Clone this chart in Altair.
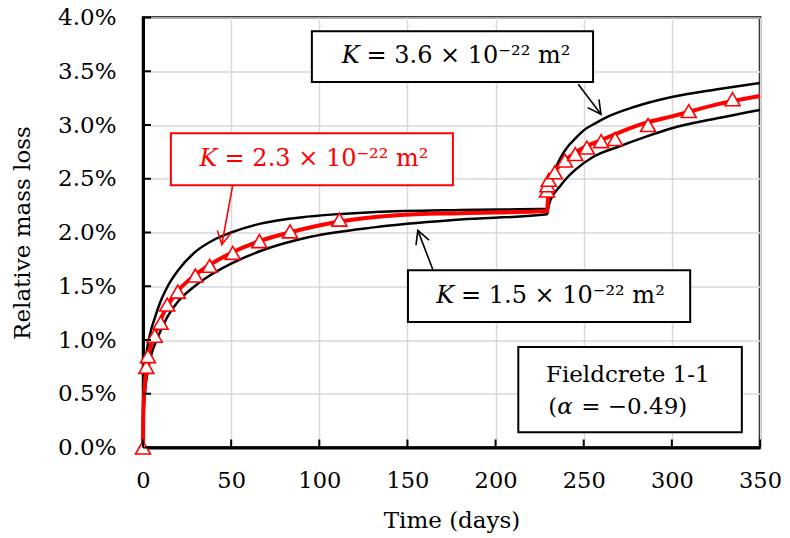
import altair as alt
import pandas as pd

# model curves, relative mass loss in %
days_hi = [0, 0.1, 0.5, 1, 2, 3, 4.7, 6.6, 10, 14, 20, 29, 40, 50, 66, 95, 132, 180, 229.3,
           229.6, 230.3, 231.5, 234, 237, 241, 245, 250, 257, 264, 279, 300, 325, 350]
loss_hi = [0, 0.30, 0.55, 0.70, 0.88, 0.98, 1.10, 1.20, 1.36, 1.50, 1.65, 1.81, 1.93, 2.00, 2.08, 2.15, 2.19, 2.21, 2.22,
           2.32, 2.42, 2.50, 2.60, 2.70, 2.80, 2.87, 2.95, 3.02, 3.08, 3.17, 3.26, 3.33, 3.39]

days_mid = [0, 0.1, 0.5, 1, 2, 3, 4.7, 6.6, 10, 14, 20, 30, 38, 50, 66, 83, 111, 144, 180, 229.3,
            229.6, 230.2, 231, 233, 236, 240, 245, 250, 260, 270, 285, 300, 325, 350]
loss_mid = [0, 0.25, 0.45, 0.58, 0.74, 0.84, 0.96, 1.05, 1.19, 1.32, 1.46, 1.61, 1.70, 1.81, 1.92, 2.00, 2.10, 2.16, 2.18, 2.20,
            2.28, 2.38, 2.45, 2.54, 2.62, 2.68, 2.74, 2.79, 2.86, 2.93, 3.02, 3.08, 3.19, 3.27]

days_lo = [0, 0.1, 0.5, 1, 2, 3, 5, 8.5, 13, 20, 30, 37, 50, 67, 95, 132, 180, 229.3,
           229.8, 230.5, 232, 234, 236, 240, 245, 255, 270, 285, 300, 325, 350]
loss_lo = [0, 0.20, 0.38, 0.50, 0.64, 0.74, 0.88, 1.03, 1.19, 1.36, 1.51, 1.59, 1.71, 1.83, 1.96, 2.05, 2.12, 2.17,
           2.22, 2.27, 2.33, 2.38, 2.42, 2.50, 2.58, 2.70, 2.80, 2.89, 2.97, 3.06, 3.14]

# measurements (triangles)
days_obs = [0, 1.9, 2.8, 6.6, 10, 13.7, 19.7, 29.7, 37.8, 50.9, 66, 83.4, 111.4,
            229.2, 229.4, 230.2, 233.6, 239.3, 245.2, 251.8, 259.9, 267.8, 286.5, 309.6, 334.4]
loss_obs = [0, 0.75, 0.85, 1.04, 1.16, 1.33, 1.45, 1.60, 1.69, 1.81, 1.92, 2.01, 2.12,
            2.39, 2.44, 2.49, 2.56, 2.67, 2.73, 2.79, 2.85, 2.87, 3.00, 3.13, 3.24]

x_ticks = [0, 50, 100, 150, 200, 250, 300, 350]
y_ticks = [0, 0.5, 1.0, 1.5, 2.0, 2.5, 3.0, 3.5, 4.0]

# annotations (in data units)
box_labels = ["3.6", "2.3", "1.5", "field"]
box_day = [95.8, 15.8, 150.3, 212.9]
box_day2 = [255.3, 175.8, 310.4, 339.7]
box_loss = [3.873, 2.924, 1.648, 0.934]
box_loss2 = [3.399, 2.439, 1.167, 0.142]
box_col = ["black", "red", "black", "black"]

arrow_day = [246.9, 50.9, 164.4]
arrow_loss = [3.38, 2.44, 1.655]
arrow_day2 = [259.8, 44.7, 155.9]
arrow_loss2 = [3.10, 1.887, 2.020]
arrow_angle = [144.3, 190.4, 339.1]
arrow_col = ["black", "red", "black"]

K_WIDTH, HEIGHT = 617, 430
FONT = "DejaVu Serif"

xs = alt.Scale(domain=[0, 350], nice=False)
ys = alt.Scale(domain=[0, 4], nice=False)
x_axis = alt.Axis(values=x_ticks, title="Time (days)", ticks=False, tickSize=0, labelPadding=22,
                  labelFlush=False, domainColor="black", domainWidth=3, gridColor="#d9d9d9", gridWidth=1.5,
                  labelFont=FONT, labelFontSize=22.5, labelColor="black",
                  titleFont=FONT, titleFontSize=23, titleFontWeight="normal", titleColor="black",
                  titleY=73, titleBaseline="middle")
y_axis = alt.Axis(values=y_ticks, title="Relative mass loss", ticks=False, tickSize=0, labelPadding=27,
                  labelFlush=False, labelExpr="format(datum.value, '.1f') + '%'",
                  domainColor="black", domainWidth=3, gridColor="#d9d9d9", gridWidth=1.5,
                  labelFont=FONT, labelFontSize=23, labelColor="black",
                  titleFont=FONT, titleFontSize=23, titleFontWeight="normal", titleColor="black",
                  titleX=-121, titleY=HEIGHT / 2, titleAngle=270, titleAlign="center", titleBaseline="middle")
X = alt.X("day:Q", scale=xs, axis=x_axis)
Y = alt.Y("loss:Q", scale=ys, axis=y_axis)

black_df = pd.concat([
    pd.DataFrame({"day": days_hi, "loss": loss_hi, "K": "3.6"}),
    pd.DataFrame({"day": days_lo, "loss": loss_lo, "K": "1.5"}),
])
red_df = pd.DataFrame({"day": days_mid, "loss": loss_mid})
obs_df = pd.DataFrame({"day": days_obs, "loss": loss_obs})

black_lines = alt.Chart(black_df).mark_line(color="black", strokeWidth=2.5, interpolate="monotone").encode(
    x=X, y=Y, detail="K:N")
red_line = alt.Chart(red_df).mark_line(color="red", strokeWidth=4, interpolate="monotone").encode(x=X, y=Y)
points = alt.Chart(obs_df).mark_point(shape="triangle-up", size=225, filled=True, fill="white",
                                      stroke="red", strokeWidth=1.6, opacity=1).encode(x=X, y=Y)

# inner tick marks
yt = alt.Chart(pd.DataFrame({"loss": y_ticks})).mark_rule(color="black", strokeWidth=2).encode(
    y=Y, x=alt.value(0), x2=alt.value(8))
xt = alt.Chart(pd.DataFrame({"day": x_ticks})).mark_rule(color="black", strokeWidth=2).encode(
    x=X, y=alt.value(HEIGHT), y2=alt.value(HEIGHT - 8))

arrows_df = pd.DataFrame({"day": arrow_day, "loss": arrow_loss, "day2": arrow_day2, "loss2": arrow_loss2,
                          "angle": arrow_angle, "col": arrow_col})
arrow_lines = alt.Chart(arrows_df).mark_rule(strokeWidth=1.6).encode(
    x=X, y=Y, x2="day2:Q", y2="loss2:Q", color=alt.Color("col:N", scale=None))
heads = alt.Chart(arrows_df).mark_point(shape="M-0.53,1L0,0L0.53,1", size=700, filled=False,
                                        strokeWidth=1.6, opacity=1).encode(
    x=alt.X("day2:Q", scale=xs, axis=x_axis), y=alt.Y("loss2:Q", scale=ys, axis=y_axis),
    angle=alt.Angle("angle:Q", scale=None), stroke=alt.Stroke("col:N", scale=None))

boxes_df = pd.DataFrame({"day": box_day, "day2": box_day2, "loss": box_loss, "loss2": box_loss2,
                         "col": box_col, "name": box_labels})
boxes = alt.Chart(boxes_df).mark_rect(fill="white", strokeWidth=2).encode(
    x=X, x2="day2:Q", y=Y, y2="loss2:Q", stroke=alt.Stroke("col:N", scale=None))

# K-labels: italic symbol + the rest of the expression
k_day = [112.7, 32.1, 166.3]
k_rest_day = [126.8, 46.3, 180.4]
k_loss = [3.641, 2.682, 1.406]
k_rest = ["= 3.6 × 10⁻²² m²", "= 2.3 × 10⁻²² m²", "= 1.5 × 10⁻²² m²"]
k_col = ["black", "red", "black"]

k_sym = alt.Chart(pd.DataFrame({"day": k_day, "loss": k_loss, "col": k_col, "text": ["K"] * 3})).mark_text(
    font=FONT, fontSize=24, fontStyle="italic", align="left", baseline="middle").encode(
    x=X, y=Y, text="text:N", color=alt.Color("col:N", scale=None))
k_txt = alt.Chart(pd.DataFrame({"day": k_rest_day, "loss": k_loss, "col": k_col, "text": k_rest})).mark_text(
    font=FONT, fontSize=24, align="left", baseline="middle").encode(
    x=X, y=Y, text="text:N", color=alt.Color("col:N", scale=None))

# specimen label
f_df = pd.DataFrame({"day": [275.0], "loss": [0.670], "text": ["Fieldcrete 1-1"]})
f_txt = alt.Chart(f_df).mark_text(font=FONT, fontSize=23, align="center", baseline="middle").encode(
    x=X, y=Y, text="text:N")
a_df = pd.DataFrame({"day": [229.9, 248.6], "loss": [0.375, 0.375], "text": ["(", "= −0.49)"]})
a_txt = alt.Chart(a_df).mark_text(font=FONT, fontSize=23, align="left", baseline="middle").encode(
    x=X, y=Y, text="text:N")
alpha_df = pd.DataFrame({"day": [235.0], "loss": [0.375], "text": ["α"]})
alpha_txt = alt.Chart(alpha_df).mark_text(font=FONT, fontSize=23, fontStyle="italic", align="left",
                                          baseline="middle").encode(x=X, y=Y, text="text:N")

chart = alt.layer(
    black_lines, red_line, points, yt, xt, arrow_lines, heads, boxes,
    k_sym, k_txt, f_txt, a_txt, alpha_txt
).properties(
    width=K_WIDTH, height=HEIGHT,
    autosize=alt.AutoSizeParams(type="none"),
    padding={"left": 135, "top": 9.5, "right": 22, "bottom": 90},
).configure_view(
    stroke="black", strokeWidth=2.5
)

chart.save("out.html", embed_options={"renderer": "svg", "actions": False})
